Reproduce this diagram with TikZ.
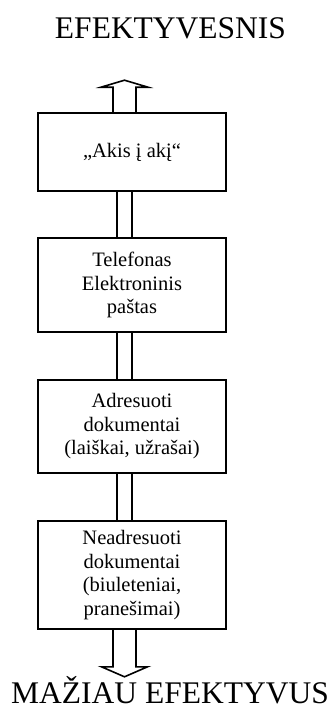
\documentclass[tikz,border=0pt]{standalone}
\usepackage{fontspec}
\setmainfont{Liberation Serif}
\usetikzlibrary{calc}
\tikzset{
  box/.style={draw, line width=1.6pt, minimum width=188pt, inner sep=0pt, align=center,
    font=\fontsize{20.5}{23.5}\selectfont},
  link/.style={line width=1.6pt},
  bigtext/.style={anchor=base, inner sep=0pt, font=\fontsize{31.5}{36}\selectfont}
}
\begin{document}
\begin{tikzpicture}[x=1pt,y=-1pt]
\useasboundingbox (0,0) rectangle (333,709);
\coordinate (ax) at (124.5,0);
\node[box, minimum height=78pt] (b1) at (132,152) {„Akis į akį“};
\node[box, minimum height=94pt] (b2) at (132,285) {Telefonas\\Elektroninis\\paštas};
\node[box, minimum height=93pt] (b3) at (132,426.5) {Adresuoti\\dokumentai\\(laiškai, užrašai)};
\node[box, minimum height=108pt] (b4) at (132,575) {Neadresuoti\\dokumentai\\(biuleteniai,\\pranešimai)};
\node[bigtext] (top) at (170.5,39) {EFEKTYVESNIS};
\node[bigtext] (bot) at (170,703) {MAŽIAU EFEKTYVUS};
% double-line connectors
\foreach \a/\b in {b1/b2,b2/b3,b3/b4}{
  \draw[link] ($(\a.south -| ax)+(-7.5,0)$) -- ($(\b.north -| ax)+(-7.5,0)$);
  \draw[link] ($(\a.south -| ax)+(7.5,0)$) -- ($(\b.north -| ax)+(7.5,0)$);
}
% top hollow arrow
\draw[link, line join=miter]
  ($(b1.north -| ax)+(-11.5,0)$) -- ++(0,-25) -- ++(-12,0) -- ++(23.5,-7) -- ++(23.5,7) -- ++(-12,0) -- ++(0,25);
% bottom hollow arrow
\draw[link, line join=miter]
  ($(b4.south -| ax)+(-11.5,0)$) -- ++(0,37) -- ++(-11.5,0) -- ++(23,10) -- ++(23,-10) -- ++(-11.5,0) -- ++(0,-37);
\end{tikzpicture}
\end{document}
